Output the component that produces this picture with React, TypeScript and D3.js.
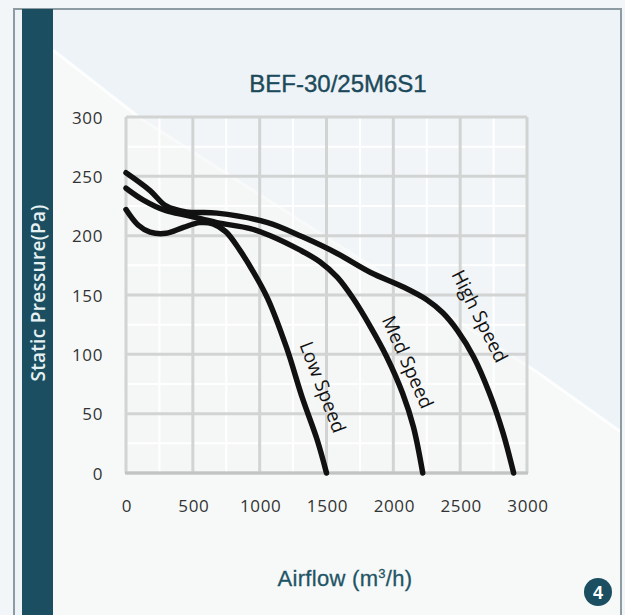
import React from 'react';
import * as d3 from 'd3';

const chartTitle = 'BEF-30/25M6S1';
const xAxisTitle = 'Airflow (m';
const yAxisTitle = 'Static Pressure(Pa)';
const badgeLabel = '4';

const xTicks = [0, 500, 1000, 1500, 2000, 2500, 3000];
const yTicks = [0, 50, 100, 150, 200, 250, 300];
const xMinor = [250, 750, 1250, 1750, 2250, 2750];
const yMinor = [25, 75, 125, 175, 225, 275];

const lowFlow = [0, 90, 180, 300, 430, 550, 650, 750, 850, 950, 1060, 1200, 1320, 1430, 1500];
const lowPa = [222, 209, 203, 202, 207, 211, 210, 203, 188, 170, 147, 106, 63, 28, 0];

const medFlow = [0, 130, 300, 460, 680, 930, 1080, 1300, 1450, 1580, 1700, 1830, 1950, 2070, 2150, 2220];
const medPa = [240, 230, 221, 217, 211, 206, 200, 188, 178, 165, 147, 123, 98, 67, 39, 0];

const highFlow = [0, 180, 300, 450, 680, 1060, 1320, 1580, 1830, 2070, 2250, 2370, 2480, 2600, 2720, 2820, 2900];
const highPa = [253, 238, 225, 220, 219, 211, 199, 185, 169, 157, 146, 135, 120, 98, 67, 34, 0];

const seriesNames = ['Low Speed', 'Med Speed', 'High Speed'];

export default function App() {
  const W = 625, H = 615;
  const x = d3.scaleLinear().domain([0, 3000]).range([126, 527]);
  const y = d3.scaleLinear().domain([0, 300]).range([473, 117]);

  const line = d3.line<[number, number]>()
    .x(d => x(d[0]))
    .y(d => y(d[1]))
    .curve(d3.curveCatmullRom.alpha(0.5));

  const series = [
    { name: seriesNames[0], flow: lowFlow, pa: lowPa, label: { cx: 323, cy: 387, a: 69 } },
    { name: seriesNames[1], flow: medFlow, pa: medPa, label: { cx: 408, cy: 362, a: 66 } },
    { name: seriesNames[2], flow: highFlow, pa: highPa, label: { cx: 480, cy: 316, a: 63 } },
  ];

  const tickFont = '"Open Sans", sans-serif';
  const headFont = '"Liberation Sans", Arial, sans-serif';

  return (
    <svg width={W} height={H} style={{ position: 'absolute', left: 0, top: 0 }}>
      <rect x={0} y={0} width={W} height={H} fill="#f2f6f8" />
      {/* frame background */}
      <rect x={14} y={9} width={607} height={H} fill="#eef3f8" />
      <polygon points="53,50 140,118 537,372 621,432 621,615 53,615" fill="#f7f9f9" />
      <polyline points="53,50 140,118 537,372 621,432" fill="none" stroke="#ffffff" strokeWidth={3} opacity={0.8} />
      <rect x={14} y={9} width={607} height={H} fill="none" stroke="#8d9ca3" strokeWidth={2} />
      {/* teal bar */}
      <rect x={22} y={9} width={31} height={H} fill="#1b4e60" />
      <text
        transform="translate(38,293) rotate(-90)"
        textAnchor="middle"
        dominantBaseline="central"
        fill="#e6f1f3"
        fontFamily={tickFont}
        fontSize={19}
        fontWeight={600}
        letterSpacing={0.3}
      >{yAxisTitle}</text>

      {/* title */}
      <text x={338} y={92} textAnchor="middle" fill="#1d4a5a" stroke="#1d4a5a" strokeWidth={0.4} fontFamily={headFont} fontSize={24}>{chartTitle}</text>

      {/* plot area */}
      <rect x={x(0)} y={y(300)} width={x(3000) - x(0)} height={y(0) - y(300)} fill="#f4f5f5" opacity={0.55} />
      {xMinor.map(v => (
        <line key={'xm' + v} x1={x(v)} x2={x(v)} y1={y(0)} y2={y(300)} stroke="#ffffff" strokeWidth={2} />
      ))}
      {yMinor.map(v => (
        <line key={'ym' + v} x1={x(0)} x2={x(3000)} y1={y(v)} y2={y(v)} stroke="#ffffff" strokeWidth={2} />
      ))}
      {xTicks.map(v => (
        <line key={'xg' + v} x1={x(v)} x2={x(v)} y1={y(0)} y2={y(300)} stroke="#d2d4d4" strokeWidth={3} />
      ))}
      {yTicks.map(v => (
        <line key={'yg' + v} x1={x(0)} x2={x(3000)} y1={y(v)} y2={y(v)} stroke="#d2d4d4" strokeWidth={3} />
      ))}
      <line x1={x(0) - 1} x2={x(3000) + 1} y1={y(0)} y2={y(0)} stroke="#c2c4c4" strokeWidth={3} />

      {/* tick labels */}
      {yTicks.map(v => (
        <text key={'yl' + v} x={103} y={y(v)} textAnchor="end" dominantBaseline="central" fill="#333" fontFamily={tickFont} fontSize={17} letterSpacing={0.6}>{v}</text>
      ))}
      {xTicks.map(v => (
        <text key={'xl' + v} x={x(v) + 1} y={505} textAnchor="middle" dominantBaseline="central" fill="#333" fontFamily={tickFont} fontSize={17} letterSpacing={0.6}>{v}</text>
      ))}

      {/* curves */}
      {series.map(s => (
        <path
          key={s.name}
          d={line(s.flow.map((f, i) => [f, s.pa[i]] as [number, number])) || ''}
          fill="none"
          stroke="#111111"
          strokeWidth={5.5}
          strokeLinecap="round"
          strokeLinejoin="round"
        />
      ))}
      {series.map(s => (
        <text
          key={'lab' + s.name}
          transform={`translate(${s.label.cx},${s.label.cy}) rotate(${s.label.a})`}
          textAnchor="middle"
          dominantBaseline="central"
          fill="#111"
          fontFamily={tickFont}
          fontSize={19}
        >{s.name}</text>
      ))}

      {/* x axis title */}
      <text x={345} y={586} textAnchor="middle" fill="#1f5565" stroke="#1f5565" strokeWidth={0.3} fontFamily={headFont} fontSize={22} letterSpacing={0.3}>
        {xAxisTitle}
        <tspan dy={-8} fontSize={13}>3</tspan>
        <tspan dy={8}>/h)</tspan>
      </text>

      {/* badge */}
      <circle cx={598} cy={592} r={14} fill="#1b4e60" />
      <text x={598} y={593} textAnchor="middle" dominantBaseline="central" fill="#ffffff" fontFamily={headFont} fontWeight={700} fontSize={18}>{badgeLabel}</text>
    </svg>
  );
}
